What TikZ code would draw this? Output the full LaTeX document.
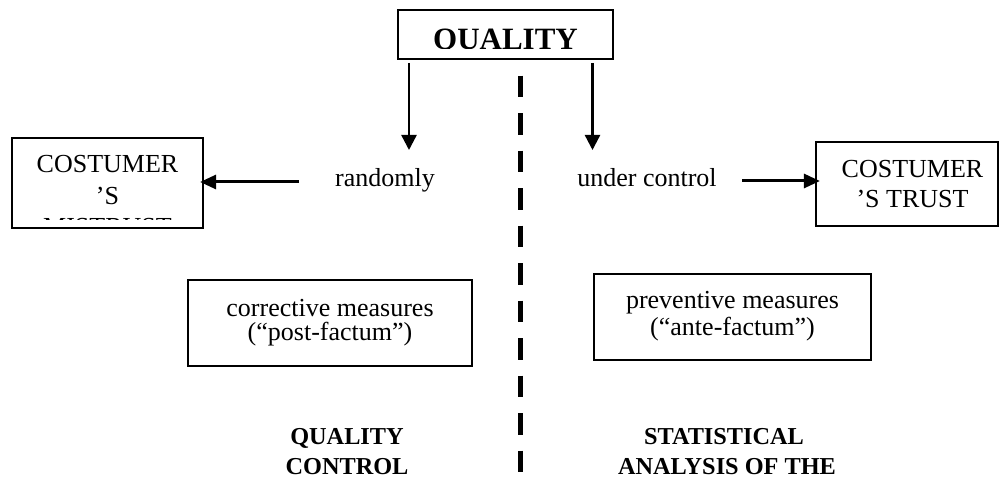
\documentclass[tikz,border=0pt]{standalone}
\usepackage{fontspec}
\setmainfont{Liberation Serif}
\usetikzlibrary{arrows.meta}
\tikzset{
  box/.style={draw, line width=2.2pt, inner sep=0pt},
  txt/.style={inner sep=0pt, font=\fontsize{26}{30}\selectfont},
  btxt/.style={inner sep=0pt, font=\fontsize{24.3}{30}\selectfont\bfseries},
  arr/.style={line width=2.4pt, -{Triangle[width=15pt,length=15pt]}},
  harr/.style={line width=3pt, -{Triangle[width=14pt,length=16pt]}},
  sep/.style={line width=5.5pt, dash pattern=on 21.7pt off 15.8pt},
}
\begin{document}
\begin{tikzpicture}[x=1pt,y=-1pt]
\useasboundingbox (0,0) rectangle (999,478);
% boxes
\node[box, minimum width=215pt, minimum height=49pt] (top) at (505.5,34.5) {};
\node[box, minimum width=191pt, minimum height=90pt] (lbox) at (107.5,183) {};
\node[box, minimum width=182pt, minimum height=84pt] (rbox) at (907,184) {};
\node[box, minimum width=284pt, minimum height=86pt] (cbox) at (330,323) {};
\node[box, minimum width=277pt, minimum height=86pt] (pbox) at (732.5,317) {};
% clipped texts
\begin{scope}
  \clip (398,10) rectangle (613,48.4);
  \node[txt, anchor=base, font=\fontsize{31}{36}\selectfont\bfseries] (qt) at (505.5,49.5) {QUALITY};
\end{scope}
\begin{scope}
  \clip (12,138) rectangle (203,219.3);
  \node[txt, anchor=base] (l1) at (107.5,173) {COSTUMER};
  \node[txt, anchor=base] (l2) at (107.5,204.5) {’S};
  \node[txt, anchor=base] (l3) at (107.5,235.5) {MISTRUST};
\end{scope}
\node[txt, anchor=base] (r1) at (912.5,178) {COSTUMER};
\node[txt, anchor=base] (r2) at (912.5,208) {’S TRUST};
\node[txt, anchor=base] (c1) at (330,316.5) {corrective measures};
\node[txt, anchor=base] (c2) at (330,341) {(“post-factum”)};
\node[txt, anchor=base] (p1) at (732.5,309) {preventive measures};
\node[txt, anchor=base] (p2) at (732.5,336) {(“ante-factum”)};
\node[txt, anchor=base] (rand) at (385,187) {randomly};
\node[txt, anchor=base] (uc) at (647,187) {under control};
\node[btxt, anchor=base] (qc1) at (347,444) {QUALITY};
\node[btxt, anchor=base] (qc2) at (347,474) {CONTROL};
\node[btxt, anchor=base] (sa1) at (724,444) {STATISTICAL};
\node[btxt, anchor=base] (sa2) at (727,474) {ANALYSIS OF THE};
% connectors
\coordinate (a1s) at (409,63);
\coordinate (a1e) at (409,150);
\coordinate (a2s) at (592.5,63);
\coordinate (a2e) at (592.5,150);
\draw[arr] (a1s) -- (a1e);
\draw[arr] (a2s) -- (a2e);
\coordinate (ltail) at (299,182);
\draw[harr] (ltail) -- ([xshift=-4pt]lbox.east |- ltail);
\coordinate (rtail) at (742,181);
\draw[harr] (rtail) -- ([xshift=5pt]rbox.west |- rtail);
\coordinate (d1) at (520.5,75.7);
\coordinate (d2) at (520.5,472);
\draw[sep] (d1) -- (d2);
\end{tikzpicture}
\end{document}
